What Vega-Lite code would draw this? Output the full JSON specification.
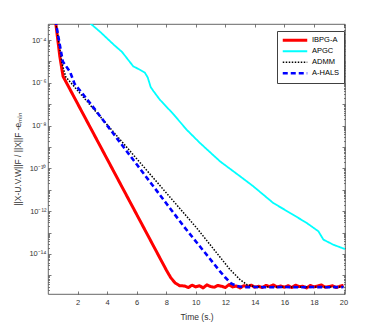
{
  "$schema": "https://vega.github.io/schema/vega-lite/v6.json",
  "width": 297,
  "height": 270,
  "autosize": {"type": "none"},
  "padding": {"left": 48, "top": 24, "right": 37, "bottom": 38},
  "background": "white",
  "config": {
    "view": {"stroke": "#404040", "strokeWidth": 0.8},
    "font": "Liberation Sans",
    "axis": {
      "domain": false,
      "grid": false,
      "tickColor": "#404040",
      "tickSize": -3,
      "tickWidth": 0.7,
      "labelFont": "Liberation Sans",
      "labelFontSize": 7.5,
      "labelColor": "#333333",
      "titleFont": "Liberation Sans",
      "titleFontSize": 8.5,
      "titleFontWeight": "normal",
      "titleColor": "#333333"
    }
  },
  "data": {
    "values": [
      {"m": "IBPG-A", "t": 0.5, "v": 8.511e-4},
      {"m": "IBPG-A", "t": 0.8, "v": 1.698e-5},
      {"m": "IBPG-A", "t": 1.02, "v": 1.995e-6},
      {"m": "IBPG-A", "t": 2, "v": 1.072e-7},
      {"m": "IBPG-A", "t": 4, "v": 2.754e-10},
      {"m": "IBPG-A", "t": 6, "v": 7.079e-13},
      {"m": "IBPG-A", "t": 8, "v": 1.82e-15},
      {"m": "IBPG-A", "t": 8.3, "v": 7.943e-16},
      {"m": "IBPG-A", "t": 8.6, "v": 4.467e-16},
      {"m": "IBPG-A", "t": 8.9, "v": 3.311e-16},
      {"m": "IBPG-A", "t": 9.25, "v": 3.2e-16},
      {"m": "IBPG-A", "t": 9.5, "v": 2.7e-16},
      {"m": "IBPG-A", "t": 9.75, "v": 3.5e-16},
      {"m": "IBPG-A", "t": 10, "v": 2.9e-16},
      {"m": "IBPG-A", "t": 10.25, "v": 3.3e-16},
      {"m": "IBPG-A", "t": 10.5, "v": 2.6e-16},
      {"m": "IBPG-A", "t": 10.75, "v": 3.6e-16},
      {"m": "IBPG-A", "t": 11, "v": 3.0e-16},
      {"m": "IBPG-A", "t": 11.25, "v": 2.8e-16},
      {"m": "IBPG-A", "t": 11.5, "v": 3.4e-16},
      {"m": "IBPG-A", "t": 11.75, "v": 3.1e-16},
      {"m": "IBPG-A", "t": 12, "v": 2.7e-16},
      {"m": "IBPG-A", "t": 12.25, "v": 3.7e-16},
      {"m": "IBPG-A", "t": 12.5, "v": 2.9e-16},
      {"m": "IBPG-A", "t": 12.75, "v": 3.2e-16},
      {"m": "IBPG-A", "t": 13, "v": 2.6e-16},
      {"m": "IBPG-A", "t": 13.25, "v": 3.3e-16},
      {"m": "IBPG-A", "t": 13.5, "v": 3.0e-16},
      {"m": "IBPG-A", "t": 13.75, "v": 3.5e-16},
      {"m": "IBPG-A", "t": 14, "v": 2.8e-16},
      {"m": "IBPG-A", "t": 14.25, "v": 3.1e-16},
      {"m": "IBPG-A", "t": 14.5, "v": 2.7e-16},
      {"m": "IBPG-A", "t": 14.75, "v": 3.4e-16},
      {"m": "IBPG-A", "t": 15, "v": 3.0e-16},
      {"m": "IBPG-A", "t": 15.25, "v": 3.6e-16},
      {"m": "IBPG-A", "t": 15.5, "v": 2.9e-16},
      {"m": "IBPG-A", "t": 15.75, "v": 3.2e-16},
      {"m": "IBPG-A", "t": 16, "v": 2.8e-16},
      {"m": "IBPG-A", "t": 16.25, "v": 3.3e-16},
      {"m": "IBPG-A", "t": 16.5, "v": 2.7e-16},
      {"m": "IBPG-A", "t": 16.75, "v": 3.5e-16},
      {"m": "IBPG-A", "t": 17, "v": 3.0e-16},
      {"m": "IBPG-A", "t": 17.25, "v": 3.1e-16},
      {"m": "IBPG-A", "t": 17.5, "v": 2.6e-16},
      {"m": "IBPG-A", "t": 17.75, "v": 3.4e-16},
      {"m": "IBPG-A", "t": 18, "v": 2.9e-16},
      {"m": "IBPG-A", "t": 18.25, "v": 3.2e-16},
      {"m": "IBPG-A", "t": 18.5, "v": 3.6e-16},
      {"m": "IBPG-A", "t": 18.75, "v": 2.8e-16},
      {"m": "IBPG-A", "t": 19, "v": 3.0e-16},
      {"m": "IBPG-A", "t": 19.25, "v": 3.3e-16},
      {"m": "IBPG-A", "t": 19.5, "v": 2.7e-16},
      {"m": "IBPG-A", "t": 19.75, "v": 3.1e-16},
      {"m": "IBPG-A", "t": 20, "v": 3.4e-16},

      {"m": "APGC", "t": 2.7, "v": 7.413e-4},
      {"m": "APGC", "t": 3.5, "v": 2.512e-4},
      {"m": "APGC", "t": 4.45, "v": 6.026e-5},
      {"m": "APGC", "t": 5.0, "v": 2.818e-5},
      {"m": "APGC", "t": 5.77, "v": 5.888e-6},
      {"m": "APGC", "t": 6.22, "v": 4.074e-6},
      {"m": "APGC", "t": 6.55, "v": 3.02e-6},
      {"m": "APGC", "t": 6.75, "v": 1.778e-6},
      {"m": "APGC", "t": 6.95, "v": 6.31e-7},
      {"m": "APGC", "t": 7.15, "v": 3.981e-7},
      {"m": "APGC", "t": 7.57, "v": 1.622e-7},
      {"m": "APGC", "t": 8.48, "v": 3.467e-8},
      {"m": "APGC", "t": 9.38, "v": 6.457e-9},
      {"m": "APGC", "t": 10.28, "v": 1.549e-9},
      {"m": "APGC", "t": 11.64, "v": 2.138e-10},
      {"m": "APGC", "t": 13.0, "v": 4.266e-11},
      {"m": "APGC", "t": 13.9, "v": 1.445e-11},
      {"m": "APGC", "t": 15.25, "v": 2.399e-12},
      {"m": "APGC", "t": 16.38, "v": 8.318e-13},
      {"m": "APGC", "t": 17.51, "v": 2.818e-13},
      {"m": "APGC", "t": 18.3, "v": 1.148e-13},
      {"m": "APGC", "t": 18.64, "v": 4.677e-14},
      {"m": "APGC", "t": 19.32, "v": 2.692e-14},
      {"m": "APGC", "t": 20.1, "v": 1.698e-14},

      {"m": "ADMM", "t": 0.5, "v": 8.511e-4},
      {"m": "ADMM", "t": 0.95, "v": 7.943e-6},
      {"m": "ADMM", "t": 1.2, "v": 1.905e-6},
      {"m": "ADMM", "t": 2.0, "v": 4.365e-7},
      {"m": "ADMM", "t": 2.83, "v": 9.55e-8},
      {"m": "ADMM", "t": 5, "v": 1.778e-9},
      {"m": "ADMM", "t": 8, "v": 7.244e-12},
      {"m": "ADMM", "t": 10.06, "v": 1.66e-13},
      {"m": "ADMM", "t": 12.32, "v": 1.862e-15},
      {"m": "ADMM", "t": 13.0, "v": 6.31e-16},
      {"m": "ADMM", "t": 13.5, "v": 3.548e-16},
      {"m": "ADMM", "t": 14.1, "v": 2.951e-16},
      {"m": "ADMM", "t": 15, "v": 2.9e-16},
      {"m": "ADMM", "t": 16, "v": 2.85e-16},
      {"m": "ADMM", "t": 17, "v": 2.9e-16},
      {"m": "ADMM", "t": 18, "v": 2.85e-16},
      {"m": "ADMM", "t": 19, "v": 2.9e-16},
      {"m": "ADMM", "t": 20, "v": 2.85e-16},

      {"m": "A-HALS", "t": 0.5, "v": 8.511e-4},
      {"m": "A-HALS", "t": 1.0, "v": 1e-5},
      {"m": "A-HALS", "t": 1.5, "v": 3.162e-6},
      {"m": "A-HALS", "t": 1.8, "v": 8.913e-7},
      {"m": "A-HALS", "t": 2.83, "v": 1.175e-7},
      {"m": "A-HALS", "t": 4, "v": 1.023e-8},
      {"m": "A-HALS", "t": 6, "v": 1.549e-10},
      {"m": "A-HALS", "t": 8, "v": 2.344e-12},
      {"m": "A-HALS", "t": 9.27, "v": 1.66e-13},
      {"m": "A-HALS", "t": 11.64, "v": 1.549e-15},
      {"m": "A-HALS", "t": 12.0, "v": 7.943e-16},
      {"m": "A-HALS", "t": 12.4, "v": 4.169e-16},
      {"m": "A-HALS", "t": 12.8, "v": 3.162e-16},
      {"m": "A-HALS", "t": 13.2, "v": 2.818e-16},
      {"m": "A-HALS", "t": 14, "v": 2.85e-16},
      {"m": "A-HALS", "t": 15, "v": 2.8e-16},
      {"m": "A-HALS", "t": 16, "v": 2.87e-16},
      {"m": "A-HALS", "t": 17, "v": 2.8e-16},
      {"m": "A-HALS", "t": 18, "v": 2.85e-16},
      {"m": "A-HALS", "t": 19, "v": 2.8e-16},
      {"m": "A-HALS", "t": 20, "v": 2.85e-16}
    ]
  },
  "layer": [
    {
      "mark": {"type": "line", "clip": true, "strokeJoin": "round"},
      "encoding": {
        "x": {
          "field": "t", "type": "quantitative",
          "scale": {"domain": [0, 20.1], "nice": false, "zero": false},
          "axis": {"orient": "bottom", "values": [2, 4, 6, 8, 10, 12, 14, 16, 18, 20], "title": "Time (s.)", "labelPadding": 7, "titlePadding": 7}
        },
        "y": {
          "field": "v", "type": "quantitative",
          "scale": {"type": "log", "domain": [1.35e-16, 5.6e-4], "nice": false},
          "axis": {
            "orient": "left",
            "values": [2e-16, 3e-16, 4e-16, 5e-16, 6e-16, 7e-16, 8e-16, 9e-16, 1e-15, 2e-15, 3e-15, 4e-15, 5e-15, 6e-15, 7e-15, 8e-15, 9e-15, 1e-14, 2e-14, 3e-14, 4e-14, 5e-14, 6e-14, 7e-14, 8e-14, 9e-14, 1e-13, 2e-13, 3e-13, 4e-13, 5e-13, 6e-13, 7e-13, 8e-13, 9e-13, 1e-12, 2e-12, 3e-12, 4e-12, 5e-12, 6e-12, 7e-12, 8e-12, 9e-12, 1e-11, 2e-11, 3e-11, 4e-11, 5e-11, 6e-11, 7e-11, 8e-11, 9e-11, 1e-10, 2e-10, 3e-10, 4e-10, 5e-10, 6e-10, 7e-10, 8e-10, 9e-10, 1e-9, 2e-9, 3e-9, 4e-9, 5e-9, 6e-9, 7e-9, 8e-9, 9e-9, 1e-8, 2e-8, 3e-8, 4e-8, 5e-8, 6e-8, 7e-8, 8e-8, 9e-8, 1e-7, 2e-7, 3e-7, 4e-7, 5e-7, 6e-7, 7e-7, 8e-7, 9e-7, 1e-6, 2e-6, 3e-6, 4e-6, 5e-6, 6e-6, 7e-6, 8e-6, 9e-6, 1e-5, 2e-5, 3e-5, 4e-5, 5e-5, 6e-5, 7e-5, 8e-5, 9e-5, 1e-4, 2e-4, 3e-4, 4e-4, 5e-4],
            "labelExpr": "datum.value == 1e-4 ? '10⁻⁴' : datum.value == 1e-6 ? '10⁻⁶' : datum.value == 1e-8 ? '10⁻⁸' : datum.value == 1e-10 ? '10⁻¹⁰' : datum.value == 1e-12 ? '10⁻¹²' : datum.value == 1e-14 ? '10⁻¹⁴' : ''",
            "labelPadding": 5,
            "tickSize": {"condition": {"test": "abs(log(datum.value)/LN10 - round(log(datum.value)/LN10)) < 0.001", "value": -3}, "value": -1.5},
            "title": "||X-U.V.W||F / ||X||F -eₘᵢₙ",
            "titlePadding": 6
          }
        },
        "color": {
          "field": "m", "type": "nominal",
          "scale": {"domain": ["IBPG-A", "APGC", "ADMM", "A-HALS"], "range": ["#ff0000", "#00ffff", "#000000", "#0000ff"]},
          "legend": {
            "orient": "none", "legendX": 229, "legendY": 7,
            "title": null,
            "symbolType": "stroke",
            "symbolSize": 600,
            "symbolOffset": 0,
            "labelOffset": 3,
            "labelFont": "Liberation Sans",
            "labelFontSize": 7.5,
            "labelColor": "#000000",
            "clipHeight": 10.5,
            "rowPadding": 0,
            "padding": 4,
            "fillColor": "white",
            "strokeColor": "#404040"
          }
        },
        "strokeDash": {
          "field": "m", "type": "nominal",
          "scale": {"domain": ["IBPG-A", "APGC", "ADMM", "A-HALS"], "range": [[1, 0], [1, 0], [1.5, 1.5], [5, 3]]}
        },
        "strokeWidth": {
          "field": "m", "type": "nominal",
          "scale": {"type": "ordinal", "domain": ["IBPG-A", "APGC", "ADMM", "A-HALS"], "range": [3, 1.8, 1.5, 2.6]}
        }
      }
    },
    {
      "mark": {"type": "line", "opacity": 0},
      "encoding": {
        "x": {
          "field": "t", "type": "quantitative",
          "axis": {"orient": "top", "values": [2, 4, 6, 8, 10, 12, 14, 16, 18, 20], "labels": false, "title": null}
        },
        "y": {
          "field": "v", "type": "quantitative",
          "axis": {
            "orient": "right",
            "values": [2e-16, 3e-16, 4e-16, 5e-16, 6e-16, 7e-16, 8e-16, 9e-16, 1e-15, 2e-15, 3e-15, 4e-15, 5e-15, 6e-15, 7e-15, 8e-15, 9e-15, 1e-14, 2e-14, 3e-14, 4e-14, 5e-14, 6e-14, 7e-14, 8e-14, 9e-14, 1e-13, 2e-13, 3e-13, 4e-13, 5e-13, 6e-13, 7e-13, 8e-13, 9e-13, 1e-12, 2e-12, 3e-12, 4e-12, 5e-12, 6e-12, 7e-12, 8e-12, 9e-12, 1e-11, 2e-11, 3e-11, 4e-11, 5e-11, 6e-11, 7e-11, 8e-11, 9e-11, 1e-10, 2e-10, 3e-10, 4e-10, 5e-10, 6e-10, 7e-10, 8e-10, 9e-10, 1e-9, 2e-9, 3e-9, 4e-9, 5e-9, 6e-9, 7e-9, 8e-9, 9e-9, 1e-8, 2e-8, 3e-8, 4e-8, 5e-8, 6e-8, 7e-8, 8e-8, 9e-8, 1e-7, 2e-7, 3e-7, 4e-7, 5e-7, 6e-7, 7e-7, 8e-7, 9e-7, 1e-6, 2e-6, 3e-6, 4e-6, 5e-6, 6e-6, 7e-6, 8e-6, 9e-6, 1e-5, 2e-5, 3e-5, 4e-5, 5e-5, 6e-5, 7e-5, 8e-5, 9e-5, 1e-4, 2e-4, 3e-4, 4e-4, 5e-4],
            "tickSize": {"condition": {"test": "abs(log(datum.value)/LN10 - round(log(datum.value)/LN10)) < 0.001", "value": -3}, "value": -1.5},
            "labels": false, "title": null
          }
        }
      }
    }
  ],
  "resolve": {"axis": {"x": "independent", "y": "independent"}}
}
